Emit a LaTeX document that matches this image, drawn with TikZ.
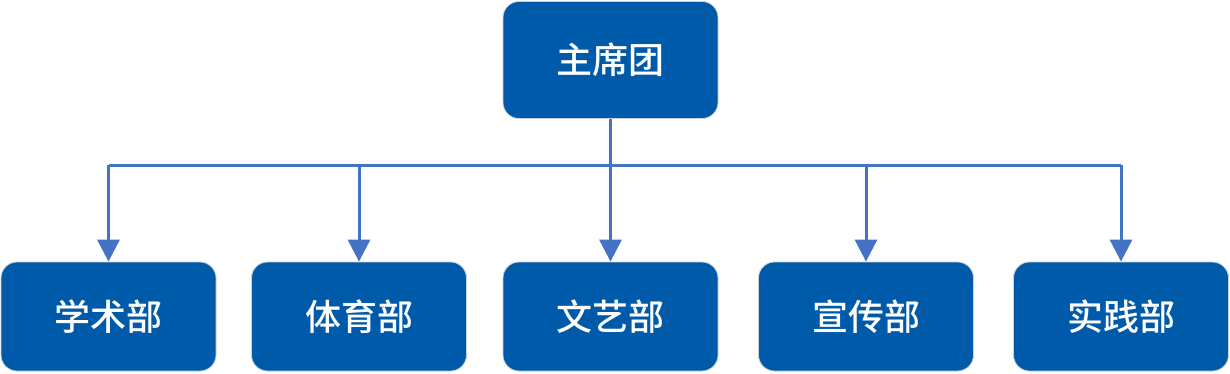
\documentclass[tikz,border=0pt]{standalone}
\usepackage{fontspec}
\newfontfamily\cjk{Noto Sans CJK SC Medium}
\usetikzlibrary{arrows.meta}
\definecolor{boxblue}{RGB}{0,90,170}
\definecolor{linkblue}{RGB}{68,114,196}
\definecolor{edgegray}{RGB}{200,208,220}
\begin{document}
\begin{tikzpicture}[x=1pt,y=-1pt,
  unit/.style={draw=edgegray, line width=0.8pt, fill=boxblue, rounded corners=16pt,
    minimum width=215pt, text=white, inner sep=0pt, font=\cjk\fontsize{36}{40}\selectfont},
  link/.style={draw=linkblue, line width=3pt},
  arr/.style={link, -{Triangle[length=22pt,width=22pt]}}]
\useasboundingbox (0,0) rectangle (1230,373);
\node[unit, minimum height=117pt] (top) at (610.5,60) {主席团};
\node[unit, minimum height=109pt] (b1) at (108.5,316.5) {学术部};
\node[unit, minimum height=109pt] (b2) at (359,316.5) {体育部};
\node[unit, minimum height=109pt] (b3) at (610.5,316.5) {文艺部};
\node[unit, minimum height=109pt] (b4) at (866,316.5) {宣传部};
\node[unit, minimum height=109pt] (b5) at (1121,316.5) {实践部};
\coordinate (hub) at (610.5,165);
\draw[link] (top.south) -- (hub);
\draw[link] (b1.north |- hub) -- (b5.north |- hub);
\foreach \b in {b1,b2,b3,b4,b5}
  \draw[arr] (\b.north |- hub) -- (\b.north);
\end{tikzpicture}
\end{document}
